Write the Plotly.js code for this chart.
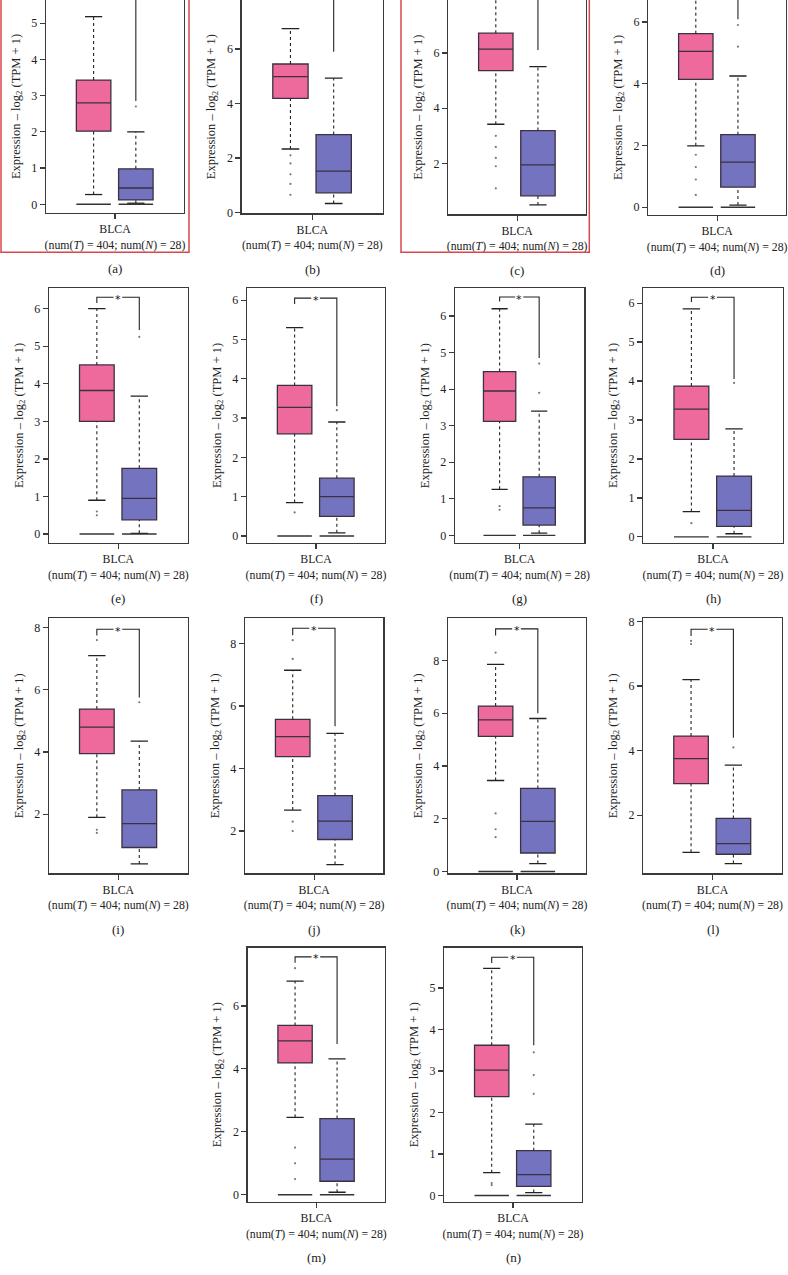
<!DOCTYPE html>
<html><head><meta charset="utf-8">
<script src="https://cdn.plot.ly/plotly-3.0.1.min.js"></script>
<style>html,body{margin:0;padding:0;background:#fff;}#chart{width:788px;height:1275px;}</style>
</head><body><div id="chart"></div>
<script>
// ---------------- DATA ----------------
const panelLetters = ['a','b','c','d','e','f','g','h','i','j','k','l','m','n'];
const categoryLabel = 'BLCA<br>(num(<i>T</i>) = 404; num(<i>N</i>) = 28)';
const yTitle = 'Expression – log<sub>2</sub> (TPM + 1)';

// tumor box statistics
const tumorLower  = [0.27, 2.33, 3.42, 1.99, 0.90, 0.85, 1.26, 0.65, 1.90, 2.67, 3.45, 0.85, 2.46, 0.55];
const tumorQ1     = [2.02, 4.19, 5.36, 4.14, 3.00, 2.60, 3.12, 2.50, 3.95, 4.38, 5.12, 2.98, 4.19, 2.38];
const tumorMedian = [2.80, 4.99, 6.14, 5.05, 3.82, 3.27, 3.95, 3.28, 4.80, 5.02, 5.75, 3.75, 4.89, 3.02];
const tumorQ3     = [3.43, 5.45, 6.72, 5.62, 4.50, 3.83, 4.48, 3.87, 5.38, 5.57, 6.27, 4.45, 5.38, 3.62];
const tumorUpper  = [5.18, 6.75, 8.70, 7.40, 6.00, 5.30, 6.20, 5.85, 7.10, 7.14, 7.85, 6.20, 6.79, 5.47];
const tumorZeroRow = [true, false, false, true, true, true, true, true, false, false, true, false, true, true];
const tumorOutliers = [
  [], [2.1, 1.8, 1.4, 1.05, 0.65], [3.0, 2.6, 2.2, 1.9, 1.1], [1.7, 1.3, 0.9, 0.4],
  [0.6, 0.5], [0.6], [0.8, 0.7], [0.35],
  [7.6, 1.5, 1.4], [8.1, 7.5, 2.3, 2.0], [8.3, 2.2, 1.6, 1.3], [7.4, 7.3],
  [7.2, 1.5, 1.0, 0.5], [0.3, 0.25]
];

// normal box statistics
const normalLower  = [0.03, 0.33, 0.50, 0.07, 0.02, 0.08, 0.06, 0.08, 0.40, 0.93, 0.30, 0.50, 0.08, 0.07];
const normalQ1     = [0.12, 0.72, 0.83, 0.65, 0.38, 0.50, 0.28, 0.27, 0.93, 1.73, 0.70, 0.79, 0.43, 0.22];
const normalMedian = [0.45, 1.52, 1.95, 1.46, 0.95, 1.00, 0.75, 0.68, 1.70, 2.32, 1.90, 1.12, 1.13, 0.50];
const normalQ3     = [0.98, 2.86, 3.19, 2.35, 1.75, 1.47, 1.60, 1.56, 2.78, 3.13, 3.15, 1.90, 2.42, 1.08];
const normalUpper  = [2.00, 4.93, 5.51, 4.25, 3.67, 2.90, 3.40, 2.77, 4.35, 5.12, 5.80, 3.55, 4.32, 1.72];
const normalZeroRow = [true, false, false, true, true, true, true, true, false, false, true, false, true, true];
const normalOutliers = [
  [2.7], [], [], [5.9, 5.2],
  [5.25], [3.2], [3.9, 4.7], [3.95],
  [5.6], [], [], [4.1],
  [], [2.45, 2.9, 3.45]
];

// significance bracket: height, end of tumor tick, end of normal leg
const bracketY       = [6.3, 8.5, 9.3, 7.8, 6.30, 6.05, 6.52, 6.15, 7.95, 8.48, 9.20, 7.76, 7.56, 5.74];
const bracketTumorY  = [6.1, 8.3, 9.1, 7.6, 6.15, 5.90, 6.40, 6.03, 7.75, 8.26, 8.95, 7.55, 7.37, 5.60];
const bracketNormalY = [2.85, 5.90, 6.11, 6.09, 5.43, 3.30, 4.85, 4.05, 5.75, 5.35, 6.00, 4.40, 4.79, 3.62];

// y axis extents and tick steps
const yMin  = [-0.24, -0.03, 0.16, -0.25, -0.23, -0.17, -0.21, -0.15, 0.10, 0.65, -0.07, 0.20, -0.22, -0.15];
const yMax  = [5.64, 7.80, 7.92, 6.71, 6.54, 6.30, 6.76, 6.38, 8.30, 8.80, 9.60, 8.10, 7.85, 5.97];
const yStep = [1, 2, 2, 2, 1, 1, 1, 1, 2, 2, 2, 2, 2, 1];

// ---------------- LAYOUT CONSTANTS ----------------
const W = 788, H = 1275;
// frame boxes in pixels: [left, right, top, bottom]
const frames = [
  [46, 184, 0, 213], [241.7, 383, 0, 213.3], [448.3, 586, 0, 214.3], [648.3, 786, 0, 215],
  [49, 187.7, 288.3, 542.7], [247, 385, 288.3, 542.7], [455, 584.3, 288.3, 543], [643.3, 782.7, 288.3, 542.7],
  [49, 187.7, 618.3, 873.3], [245, 383.3, 618.3, 873.3], [448, 586, 618.3, 873.3], [643.3, 781.7, 618.3, 873.3],
  [247.7, 385, 947.7, 1201.7], [444.3, 581.7, 947.7, 1201.7]
];
const topRowOpen = [true, true, true, true, false, false, false, false, false, false, false, false, false, false];
const TX = 0.345, NX = 0.651, BW = 0.25;
const PINK = '#EE6A9C', BLUE = '#7373BF', EDGE = '#3b3140', AX = '#3a3a3a';
const FONT = 'Liberation Serif, Times New Roman, serif';

const px = x => x / W, py = y => 1 - y / H;

const data = [];
const layout = {
  width: W, height: H, margin: {l: 0, r: 0, t: 0, b: 0},
  paper_bgcolor: '#fff', plot_bgcolor: '#fff', showlegend: false,
  font: {family: FONT, size: 12, color: '#222'},
  annotations: [], shapes: []
};

panelLetters.forEach((letter, i) => {
  const k = i + 1;
  const xa = 'x' + (k === 1 ? '' : k), ya = 'y' + (k === 1 ? '' : k);
  const [l, r, t, b] = frames[i];
  layout['xaxis' + (k === 1 ? '' : k)] = {
    domain: [px(l), px(r)], range: [0, 1], anchor: ya,
    tickvals: [0.5], ticktext: [categoryLabel], ticks: 'outside', ticklen: 5, tickwidth: 1.2, tickcolor: AX,
    showline: true, linecolor: AX, linewidth: 1.3, mirror: !topRowOpen[i],
    showgrid: false, zeroline: false, fixedrange: true,
    tickfont: {family: FONT, size: 11.8, color: '#222'}
  };
  layout['yaxis' + (k === 1 ? '' : k)] = {
    domain: [py(b), py(t)], range: [yMin[i], yMax[i]], anchor: xa,
    dtick: yStep[i], tick0: 0, ticks: 'outside', ticklen: 5, tickwidth: 1.2, tickcolor: AX,
    showline: true, linecolor: AX, linewidth: 1.3, mirror: true,
    showgrid: false, zeroline: false, fixedrange: true,
    tickfont: {family: FONT, size: 12, color: '#222'},
    title: {text: yTitle, font: {family: FONT, size: 12.5, color: '#222'}, standoff: 8}
  };

  const groups = [
    {c: TX, lo: tumorLower[i], q1: tumorQ1[i], med: tumorMedian[i], q3: tumorQ3[i], hi: tumorUpper[i], zero: tumorZeroRow[i], out: tumorOutliers[i], fill: PINK},
    {c: NX, lo: normalLower[i], q1: normalQ1[i], med: normalMedian[i], q3: normalQ3[i], hi: normalUpper[i], zero: normalZeroRow[i], out: normalOutliers[i], fill: BLUE}
  ];
  groups.forEach(g => {
    // dotted whiskers
    data.push({type: 'scatter', mode: 'lines', xaxis: xa, yaxis: ya, hoverinfo: 'skip',
      x: [g.c, g.c, null, g.c, g.c], y: [g.lo, g.q1, null, g.q3, g.hi],
      line: {color: '#222', width: 1.1, dash: 'dot'}});
    // box
    data.push({type: 'box', xaxis: xa, yaxis: ya, x: [g.c], q1: [g.q1], median: [g.med], q3: [g.q3],
      lowerfence: [g.q1], upperfence: [g.q3], width: BW, whiskerwidth: 0, boxpoints: false,
      fillcolor: g.fill, line: {color: EDGE, width: 1.3}, hoverinfo: 'skip'});
    // caps
    data.push({type: 'scatter', mode: 'lines', xaxis: xa, yaxis: ya, hoverinfo: 'skip',
      x: [g.c - BW / 4, g.c + BW / 4, null, g.c - BW / 4, g.c + BW / 4],
      y: [g.lo, g.lo, null, g.hi, g.hi], line: {color: '#222', width: 1.3}});
    // row of zero-valued samples
    if (g.zero) {
      data.push({type: 'scatter', mode: 'lines', xaxis: xa, yaxis: ya, hoverinfo: 'skip',
        x: [g.c - BW / 2, g.c + BW / 2], y: [0, 0], line: {color: '#333', width: 1.4}});
    }
    // outlying samples
    if (g.out.length) {
      data.push({type: 'scatter', mode: 'markers', xaxis: xa, yaxis: ya, hoverinfo: 'skip',
        x: g.out.map(() => g.c), y: g.out, marker: {color: '#777', size: 2.2}});
    }
  });

  // significance bracket
  data.push({type: 'scatter', mode: 'lines', xaxis: xa, yaxis: ya, hoverinfo: 'skip',
    x: [TX, TX, 0.465, null, 0.528, NX, NX],
    y: [bracketTumorY[i], bracketY[i], bracketY[i], null, bracketY[i], bracketY[i], bracketNormalY[i]],
    line: {color: '#222', width: 1.1}});
  if (bracketY[i] < yMax[i]) {
    layout.annotations.push({xref: xa, yref: ya, x: 0.4965, y: bracketY[i], text: '*', showarrow: false,
      font: {family: 'DejaVu Sans, sans-serif', size: 11, color: '#111'}, yanchor: 'middle', yshift: -2});
  }

  // panel letter
  layout.annotations.push({xref: 'paper', yref: 'paper', x: px((l + r) / 2), y: py(b + 56),
    text: '(' + letter + ')', showarrow: false, font: {family: FONT, size: 13, color: '#222'},
    xanchor: 'center', yanchor: 'middle'});
});

// red highlight frames around (a) and (c)
[[1, 189], [401, 589.3]].forEach(([x0, x1]) => {
  layout.shapes.push({type: 'rect', xref: 'paper', yref: 'paper', x0: px(x0), x1: px(x1), y0: py(252.3), y1: py(-5),
    line: {color: '#D9474B', width: 1.5}});
});

Plotly.newPlot('chart', data, layout, {staticPlot: true, displayModeBar: false});
</script>
</body></html>
